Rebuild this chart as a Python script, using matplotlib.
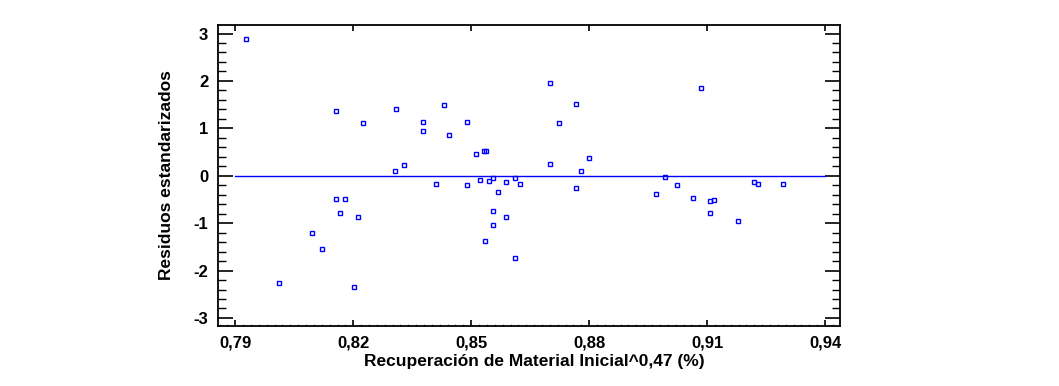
import matplotlib
matplotlib.use("Agg")
import matplotlib.pyplot as plt
from matplotlib.ticker import MultipleLocator, FuncFormatter

# ── data ─────────────────────────────────────────────────────────────────────

recuperacion = [
    0.7928, 0.8012, 0.8095, 0.8121, 0.8156, 0.8156, 0.8167, 0.8179, 0.8203,
    0.8213, 0.8225, 0.8307, 0.8308, 0.8330, 0.8378, 0.8378, 0.8411, 0.8432,
    0.8444, 0.8489, 0.8489, 0.8512, 0.8523, 0.8533, 0.8537, 0.8534, 0.8545,
    0.8556, 0.8556, 0.8556, 0.8567, 0.8589, 0.8589, 0.8612, 0.8612, 0.8623,
    0.8701, 0.8701, 0.8724, 0.8766, 0.8766, 0.8778, 0.8799, 0.8970, 0.8992,
    0.9023, 0.9065, 0.9085, 0.9108, 0.9108, 0.9118, 0.9179, 0.9220, 0.9230,
    0.9292,
]
residuos = [
    2.88, -2.27, -1.20, -1.54, 1.37, -0.50, -0.78, -0.49, -2.35,
    -0.88, 1.12, 0.09, 1.41, 0.22, 1.14, 0.95, -0.17, 1.50,
    0.85, 1.14, -0.19, 0.46, -0.08, 0.53, 0.52, -1.37, -0.12,
    -0.05, -0.74, -1.04, -0.34, -0.13, -0.88, -0.04, -1.73, -0.17,
    1.95, 0.24, 1.12, 1.52, -0.26, 0.09, 0.38, -0.39, -0.02,
    -0.20, -0.47, 1.85, -0.54, -0.78, -0.52, -0.95, -0.13, -0.18,
    -0.17,
]

linea_x = [0.79, 0.94]
linea_y = [0.0, 0.0]

x_ticks = [0.79, 0.82, 0.85, 0.88, 0.91, 0.94]
y_ticks = [-3, -2, -1, 0, 1, 2, 3]

# ── plot ─────────────────────────────────────────────────────────────────────

plt.rcParams["font.family"] = ["Liberation Sans", "DejaVu Sans"]
plt.rcParams["font.weight"] = "bold"

fig = plt.figure(figsize=(10.59, 3.86), dpi=100)
ax = fig.add_axes([218 / 1059, 60 / 386, 622 / 1059, 301 / 386])

ax.plot(linea_x, linea_y, color="#0000ff", linewidth=1.0)
ax.plot(recuperacion, residuos, linestyle="none", marker="s", markersize=3.3,
        markerfacecolor="none", markeredgecolor="#0000ff", markeredgewidth=1.0)

ax.set_xlim(0.7856, 0.9438)
ax.set_ylim(-3.17, 3.18)

ax.set_xticks(x_ticks)
ax.set_yticks(y_ticks)
ax.xaxis.set_minor_locator(MultipleLocator(0.002))
ax.yaxis.set_minor_locator(MultipleLocator(0.2))
ax.xaxis.set_major_formatter(FuncFormatter(lambda v, p: f"{v:.2f}".replace(".", ",")))
ax.yaxis.set_major_formatter(FuncFormatter(lambda v, p: f"{v:.0f}"))

ax.tick_params(axis="y", which="major", direction="in", length=11, width=1.2,
               left=True, right=True, pad=7, labelsize=12)
ax.tick_params(axis="y", which="minor", direction="in", length=6, width=1.0,
               left=True, right=True)
ax.tick_params(axis="x", which="major", direction="in", length=4.5, width=1.2,
               bottom=True, top=True, pad=7, labelsize=12)
ax.tick_params(axis="x", which="minor", direction="in", length=1.5, width=0.8,
               bottom=True, top=False, color="#888888")

for s in ax.spines.values():
    s.set_linewidth(1.3)

ax.set_xlabel("Recuperación de Material Inicial^0,47 (%)", fontsize=12.5, fontweight="bold")
ax.set_ylabel("Residuos estandarizados", fontsize=12.5, fontweight="bold")
ax.xaxis.set_label_coords(0.508, -0.093)
ax.yaxis.set_label_coords(-0.071, 0.5)

fig.savefig("out.png", dpi=100)
